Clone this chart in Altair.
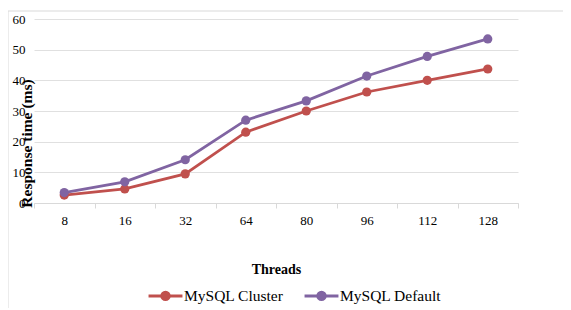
import altair as alt
import pandas as pd

threads = ["8", "16", "32", "64", "80", "96", "112", "128"]
cluster = [2.6, 4.6, 9.5, 23.1, 30.0, 36.2, 40.0, 43.7]
default = [3.4, 6.9, 14.1, 27.0, 33.3, 41.4, 47.8, 53.5]
series = ["MySQL Cluster", "MySQL Default"]
colors = ["#C0504D", "#8064A2"]

rows = []
for i, t in enumerate(threads):
    rows.append({"Threads": t, "Series": series[0], "ms": cluster[i]})
    rows.append({"Threads": t, "Series": series[1], "ms": default[i]})
df = pd.DataFrame(rows)

FONT = "Liberation Serif"

x = alt.X("Threads:N", sort=threads,
          scale=alt.Scale(type="band", paddingInner=0, paddingOuter=0),
          axis=alt.Axis(title="Threads", labelAngle=0, tickBand="extent",
                        domainColor="#d9d9d9", tickColor="#d9d9d9", tickSize=5,
                        labelPadding=6, labelFontSize=13, labelColor="#000",
                        labelFont=FONT, titleFont=FONT,
                        titleFontSize=14, titleFontWeight="bold", titleColor="#000",
                        titlePadding=35, grid=False))
y = alt.Y("ms:Q", scale=alt.Scale(domain=[0, 60]),
          axis=alt.Axis(title="Response time (ms)", values=[0, 10, 20, 30, 40, 50, 60],
                        domain=False, ticks=False, gridColor="#e0e0e0",
                        labelFontSize=13, labelColor="#000", labelPadding=9,
                        labelFont=FONT, titleFont=FONT,
                        titleFontSize=15.5, titleFontWeight="bold", titleColor="#000",
                        titleX=0, titleY=124, titleAngle=-90))
color = alt.Color("Series:N", scale=alt.Scale(domain=series, range=colors),
                  legend=alt.Legend(title=None, orient="none", direction="horizontal",
                                    legendX=113, legendY=258, labelFontSize=15.5,
                                    labelColor="#000", labelFont=FONT,
                                    symbolType="M-1,0L1,0M-0.22,0A0.22,0.22 0 1 1 0.22,0A0.22,0.22 0 1 1 -0.22,0Z",
                                    symbolSize=1150, symbolStrokeWidth=3,
                                    columnPadding=14, labelOffset=0))

base = alt.Chart(df)
lines = base.mark_line(strokeWidth=2.8).encode(x=x, y=y, color=color)
points = base.mark_point(filled=True, size=85, opacity=1).encode(x=x, y=y, color=color)

border = alt.Chart(pd.DataFrame({"a": [0]})).mark_rect(
    fill=None, stroke="#d9d9d9", strokeWidth=1
).encode(x=alt.value(-26), x2=alt.value(600), y=alt.value(-8), y2=alt.value(400))

chart = alt.layer(border, lines, points).properties(
    width=484, height=184,
    autosize=alt.AutoSizeParams(type="none"),
    padding={"left": 26, "top": 11, "right": 45, "bottom": 105},
).configure(font=FONT).configure_view(stroke=None)

chart.save("out.html", embed_options={"renderer": "svg", "actions": False})
